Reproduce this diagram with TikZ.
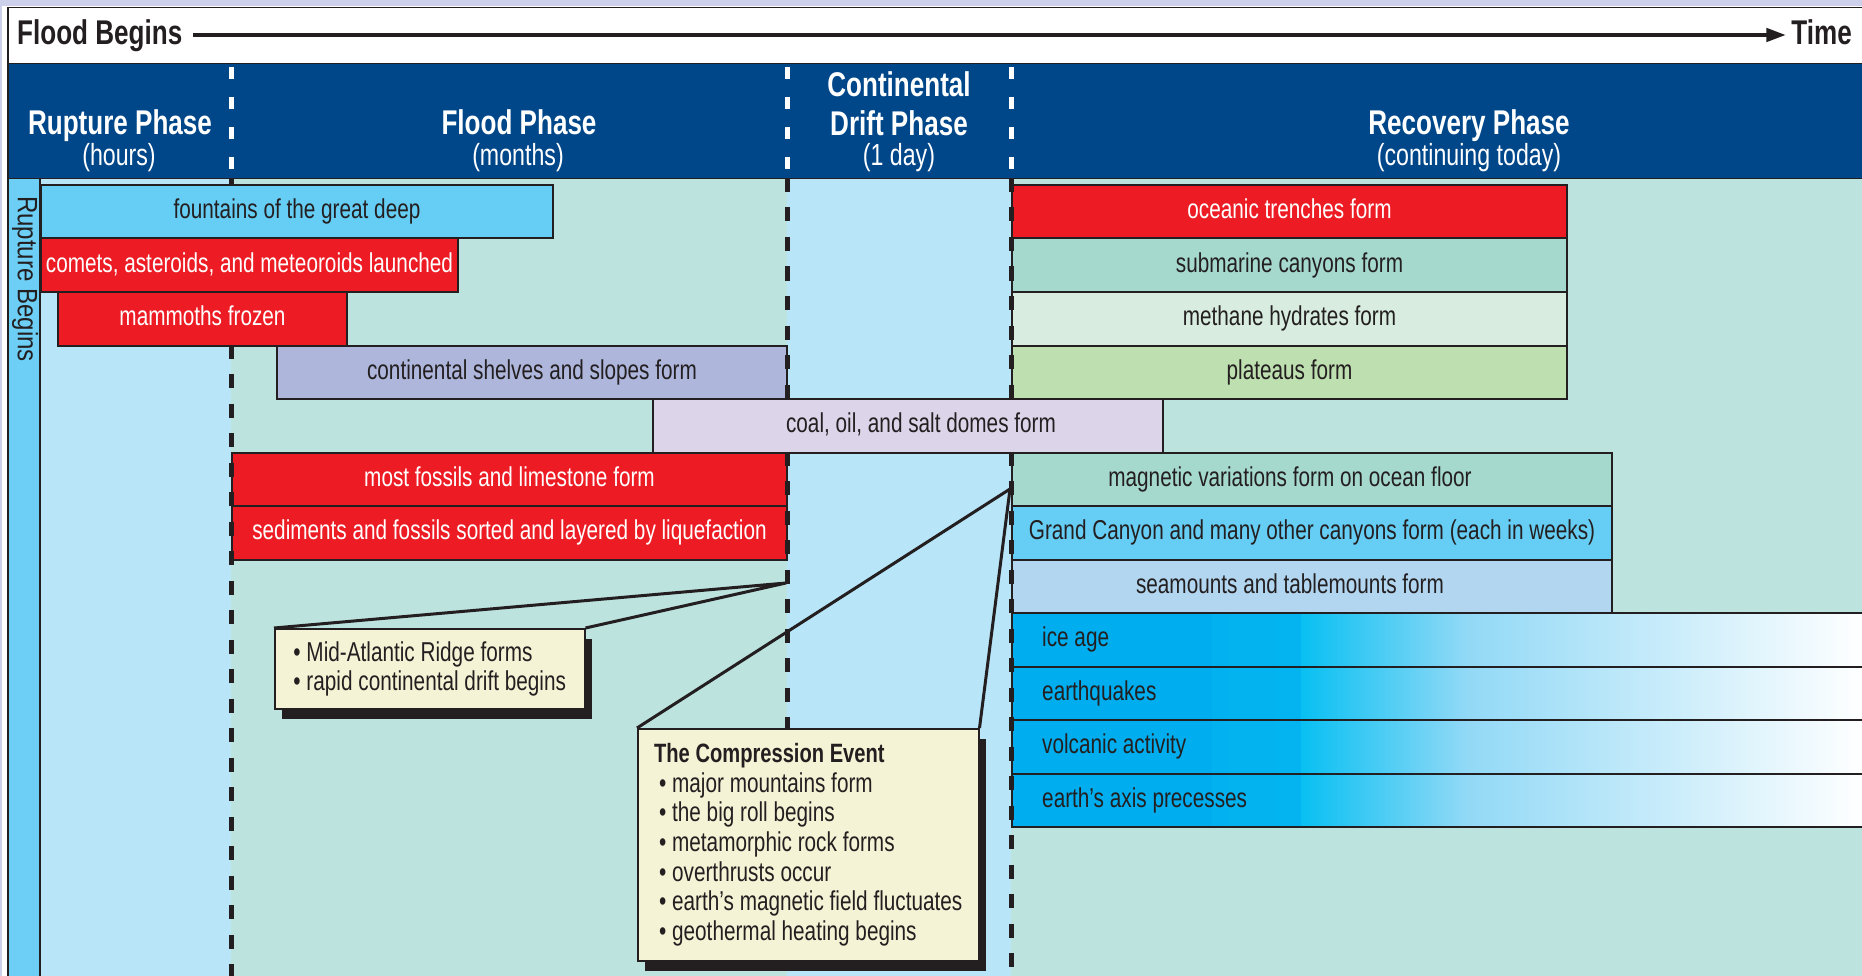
\documentclass[tikz,border=0pt]{standalone}
\usepackage{fontspec}
\setmainfont{Liberation Sans}[FakeStretch=0.76]
\newfontfamily\sidefont{Liberation Sans}[FakeStretch=0.86]
\usetikzlibrary{arrows.meta,shadows}

\definecolor{navy}{HTML}{00478A}
\definecolor{ink}{HTML}{231F20}
\definecolor{rim}{HTML}{CDD0EA}
\definecolor{sea}{HTML}{BDE3DF}
\definecolor{sky}{HTML}{B8E5F8}
\definecolor{cyanstrip}{HTML}{6DCFF6}
\definecolor{fountain}{HTML}{66CDF4}
\definecolor{quake}{HTML}{ED1C24}
\definecolor{shelf}{HTML}{AEB6DC}
\definecolor{coalfill}{HTML}{DCD5EA}
\definecolor{canyon}{HTML}{A6D9CE}
\definecolor{methane}{HTML}{D8EDDF}
\definecolor{plateau}{HTML}{BEDFB0}
\definecolor{seamount}{HTML}{B2D6F0}
\definecolor{ice}{HTML}{00AEEF}
\definecolor{icehi}{HTML}{08C0F2}
\definecolor{icemid}{HTML}{92D9F6}
\definecolor{notefill}{HTML}{F5F3D5}

\begin{document}
\begin{tikzpicture}[x=1pt,y=-1pt]
\tikzset{txt/.style={font=\fontsize{27.3}{29.6}\selectfont}}
\tikzset{bar/.style={draw=ink, line width=2pt, anchor=north west, minimum height=53.5pt, inner sep=0pt, text height=20pt, text depth=6pt, txt, text=ink}}
\tikzset{redbar/.style={bar, fill=quake, text=white}}
\tikzset{icebar/.style={bar, fill=ice, minimum width=860pt,
  path picture={
    \shade[left color=ice, right color=icehi] ([xshift=200pt]path picture bounding box.north west) rectangle ([xshift=289pt]path picture bounding box.south west);
    \shade[left color=icehi, right color=icemid] ([xshift=289pt]path picture bounding box.north west) rectangle ([xshift=455pt]path picture bounding box.south west);
    \shade[left color=icemid, right color=white] ([xshift=455pt]path picture bounding box.north west) rectangle ([xshift=-8pt]path picture bounding box.south east);
    \fill[white] ([xshift=-8pt]path picture bounding box.north east) rectangle (path picture bounding box.south east);}}}
\tikzset{bartext/.style={txt, text=ink, inner sep=0pt, text height=20pt, text depth=6pt}}
\tikzset{phase/.style={text=white, anchor=base, inner sep=0pt, font=\bfseries\fontsize{34.3}{39}\selectfont}}
\tikzset{span/.style={text=white, anchor=base, inner sep=0pt, font=\fontsize{30.5}{32}\selectfont}}
\tikzset{stamp/.style={text=ink, inner sep=0pt, text height=25pt, text depth=5pt, font=\bfseries\fontsize{34.3}{39}\selectfont}}
\tikzset{hdash/.style={white, line width=5pt, dash pattern=on 12pt off 18pt}}
\tikzset{vdash/.style={ink, line width=5pt, dash pattern=on 14pt off 15.5pt}}
\tikzset{note/.style={draw=ink, line width=1.5pt, fill=notefill, anchor=north west, inner xsep=13pt, inner ysep=0pt, align=left, txt, text=ink, drop shadow={shadow xshift=7pt, shadow yshift=-10pt, fill=ink, opacity=1}}}
\tikzset{pointer/.style={ink, line width=3pt, line join=round}}

\useasboundingbox (0,0) rectangle (1862,976);

% frame, header band and column backgrounds
\fill[rim] (0,0) rectangle (1862,976);
\fill[white] (2,6) rectangle (1862,976);
\fill[navy] (8,64) rectangle (1862,178);
\fill[cyanstrip] (8,178) rectangle (40,976);
\fill[sky] (40,178) rectangle (231,976);
\fill[sea] (231,178) rectangle (787,976);
\fill[sky] (787,178) rectangle (1011,976);
\fill[sea] (1011,178) rectangle (1862,976);
\draw[ink, line width=1.5pt] (1862,7.5) -- (8,7.5) -- (8,976);
\draw[ink, line width=1.5pt] (8,63.5) -- (1862,63.5);
\draw[ink, line width=1.5pt] (8,178.5) -- (1862,178.5);
\draw[ink, line width=2pt] (40,178) -- (40,976);

\node[stamp, anchor=base west] (begins) at (17,45) {Flood Begins};
\node[stamp, anchor=base east] (time) at (1852,45) {Time};
\draw[ink, line width=4.5pt, -{Triangle[length=20pt,width=13pt]}, shorten <=11pt, shorten >=5pt] (begins.east) -- (begins.east -| time.west);

\node[phase] (rupture) at (120,135) {Rupture Phase};
\node[span] (rupture-t) at (119,166) {(hours)};
\node[phase] (flood) at (519,135) {Flood Phase};
\node[span] (flood-t) at (518,166) {(months)};
\node[phase] (drift-a) at (899,97) {Continental};
\node[phase] (drift) at (899,136) {Drift Phase};
\node[span] (drift-t) at (899,166) {(1 day)};
\node[phase] (recovery) at (1469,135) {Recovery Phase};
\node[span] (recovery-t) at (1469,166) {(continuing today)};
\foreach \x in {231,787,1011} \draw[hdash] (\x,67) -- (\x,178);

\node[rotate=-90, inner sep=0pt, text=ink, font=\sidefont\fontsize{28}{30}\selectfont] (rupturebegins) at (25,279) {Rupture Begins};

% rupture and flood events
\node[bar, fill=fountain, minimum width=512pt] (fountains) at (40,184) {fountains of the great deep};
\node[redbar, minimum width=417pt] (comets) at (40,237.5) {comets, asteroids, and meteoroids launched};
\node[redbar, minimum width=289pt] (mammoths) at (57,291) {mammoths frozen};
\node[bar, fill=shelf, minimum width=510pt] (shelves) at (276,344.5) {continental shelves and slopes form};
\node[bar, fill=coalfill, minimum width=510pt] (coal) at (652,398) {};
\node[bartext] (coal-t) at ([xshift=13pt]coal.center) {coal, oil, and salt domes form};
\node[redbar, minimum width=555pt] (fossils) at (231,451.5) {most fossils and limestone form};
\node[redbar, minimum width=555pt] (sediments) at (231,505) {sediments and fossils sorted and layered by liquefaction};

% recovery events
\node[redbar, minimum width=555pt] (trenches) at (1011,184) {oceanic trenches form};
\node[bar, fill=canyon, minimum width=555pt] (submarine) at (1011,237.5) {submarine canyons form};
\node[bar, fill=methane, minimum width=555pt] (hydrates) at (1011,291) {methane hydrates form};
\node[bar, fill=plateau, minimum width=555pt] (plateaus) at (1011,344.5) {plateaus form};
\node[bar, fill=canyon, minimum width=600pt] (magnetic) at (1011,451.5) {};
\node[bartext] (magnetic-t) at ([xshift=-22pt]magnetic.center) {magnetic variations form on ocean floor};
\node[bar, fill=fountain, minimum width=600pt] (grandcanyon) at (1011,505) {Grand Canyon and many other canyons form (each in weeks)};
\node[bar, fill=seamount, minimum width=600pt] (seamounts) at (1011,558.5) {};
\node[bartext] (seamounts-t) at ([xshift=-22pt]seamounts.center) {seamounts and tablemounts form};

\node[icebar] (ice) at (1011,612) {};
\node[icebar] (quakes) at (1011,665.5) {};
\node[icebar] (volcanoes) at (1011,719) {};
\node[icebar] (axis) at (1011,772.5) {};
\node[bartext, anchor=west] (ice-t) at ([xshift=31pt]ice.west) {ice age};
\node[bartext, anchor=west] (quakes-t) at ([xshift=31pt]quakes.west) {earthquakes};
\node[bartext, anchor=west] (volcanoes-t) at ([xshift=31pt]volcanoes.west) {volcanic activity};
\node[bartext, anchor=west] (axis-t) at ([xshift=31pt]axis.west) {earth’s axis precesses};

\draw[vdash] (231,178) -- (231,184) (231,344.5) -- (231,976);
\draw[vdash] (787,178) -- (787,398) (787,451.5) -- (787,728);
\draw[vdash] (1011,178) -- (1011,398) (1011,451.5) -- (1011,976);

% call-outs
\coordinate (ridgetip) at (786,583);
\coordinate (squeeze) at (1010,489);
\node[note, minimum width=310pt, minimum height=80pt] (ridge) at (274,628)
  {\textbullet\ Mid-Atlantic Ridge forms\\\textbullet\ rapid continental drift begins};
\node[note, minimum width=341pt, minimum height=232pt] (compression) at (637,728)
  {{\bfseries\fontsize{26.5}{29.6}\selectfont The Compression Event}\\
   \hspace*{5pt}\textbullet\ major mountains form\\
   \hspace*{5pt}\textbullet\ the big roll begins\\
   \hspace*{5pt}\textbullet\ metamorphic rock forms\\
   \hspace*{5pt}\textbullet\ overthrusts occur\\
   \hspace*{5pt}\textbullet\ earth’s magnetic field fluctuates\\
   \hspace*{5pt}\textbullet\ geothermal heating begins};
\draw[pointer] (ridge.north west) -- (ridgetip) -- (ridge.north east);
\draw[pointer] (compression.north west) -- (squeeze) -- (compression.north east);

\end{tikzpicture}
\end{document}
